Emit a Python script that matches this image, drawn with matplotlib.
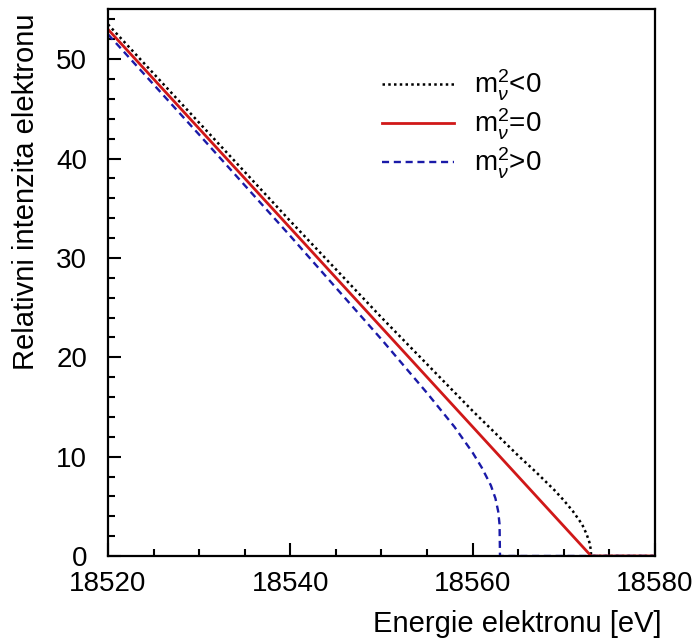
import numpy as np
import matplotlib
matplotlib.use('Agg')
import matplotlib.pyplot as plt
from matplotlib.ticker import MultipleLocator

# values
energy_neg = [18520, 18530, 18540, 18550, 18555, 18560, 18563, 18565, 18567, 18569,
              18570, 18571, 18572, 18572.5, 18572.8, 18572.95, 18573, 18580]
kurie_neg = [53.5, 43.6, 33.7, 24.0, 19.3, 14.6, 11.9, 10.1, 8.4, 6.6,
             5.6, 4.5, 3.2, 2.2, 1.4, 0.7, 0.0, 0.0]

energy_zero = [18520, 18573, 18580]
kurie_zero = [53.0, 0.0, 0.0]

energy_pos = [18520, 18530, 18540, 18550, 18555, 18558, 18560, 18561, 18562,
              18562.5, 18562.8, 18562.95, 18563, 18580]
kurie_pos = [52.5, 42.4, 32.2, 21.8, 16.4, 13.0, 10.4, 8.9, 7.1,
             5.8, 4.5, 3.2, 0.0, 0.0]

labels = [r'm$_\nu^2$<0', r'm$_\nu^2$=0', r'm$_\nu^2$>0']

plt.rcParams['font.family'] = ['Liberation Sans', 'DejaVu Sans']
plt.rcParams['mathtext.fontset'] = 'custom'
plt.rcParams['mathtext.rm'] = 'Liberation Sans'
plt.rcParams['mathtext.it'] = 'Liberation Sans:italic'

fig = plt.figure(figsize=(6.95, 6.43), dpi=100)
ax = fig.add_axes([0.1554, 0.1353, 0.787, 0.850])

ax.plot(energy_neg, kurie_neg, color='black', linestyle=(0, (1, 1.3)), lw=1.8, label=labels[0])
ax.plot(energy_zero, kurie_zero, color='#d01818', linestyle='-', lw=2.0, label=labels[1])
ax.plot(energy_pos, kurie_pos, color='#1a1aa8', linestyle=(0, (3, 2)), lw=1.7, label=labels[2])

ax.set_xlim(18520, 18580)
ax.set_ylim(0, 55)

ax.xaxis.set_major_locator(MultipleLocator(20))
ax.xaxis.set_minor_locator(MultipleLocator(5))
ax.yaxis.set_major_locator(MultipleLocator(10))
ax.yaxis.set_minor_locator(MultipleLocator(2))
ax.tick_params(which='major', direction='in', length=9.5, width=1.5, labelsize=20)
ax.tick_params(which='minor', direction='in', length=4.7, width=1.5)
ax.tick_params(axis='x', which='major', pad=11)
ax.tick_params(axis='y', which='major', pad=15)
ax.tick_params(top=False, right=False)
for s in ax.spines.values():
    s.set_linewidth(1.6)

ax.set_xlabel('Energie elektronu [eV]', fontsize=21)
ax.xaxis.set_label_coords(1.013, -0.098)
ax.xaxis.label.set_horizontalalignment('right')
ax.set_ylabel('Relativni intenzita elektronu', fontsize=21)
ax.yaxis.set_label_coords(-0.125, 0.992)
ax.yaxis.label.set_horizontalalignment('right')

ax.legend(loc='upper left', bbox_to_anchor=(0.476, 0.918), frameon=False, fontsize=20,
          borderpad=0, handlelength=2.6, handletextpad=0.7, labelspacing=0.12)

fig.savefig('out.png', dpi=100)
